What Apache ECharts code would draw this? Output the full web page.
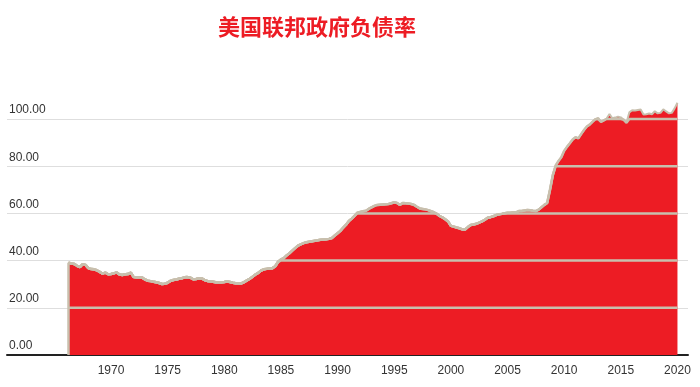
<!DOCTYPE html>
<html>
<head>
<meta charset="utf-8">
<script src="https://cdn.jsdelivr.net/npm/echarts@6/dist/echarts.min.js"></script>
<style>
html,body{margin:0;padding:0;background:#fff;}
#chart{width:700px;height:387px;}
</style>
</head>
<body>
<div id="chart"></div>
<script>
// Title
const chartTitle = '美国联邦政府负债率';
// First quarter of data (decimal year) and quarter step
const firstQuarter = 1966.25;
const quarterStep = 0.25;
// Federal debt as % of GDP, quarterly
const debt1960s = [39.1, 38.8, 38.6,
  37.8, 37.2, 38.5, 38.2,
  36.8, 36.4, 36.3, 35.9,
  35.2, 34.5, 34.9, 34.2];
const debt1970s = [34.3, 34.6, 35.0, 34.1,
  33.9, 34.2, 34.3, 34.9,
  33.0, 32.9, 32.9, 32.8,
  32.0, 31.5, 31.3, 31.0,
  30.8, 30.5, 30.1, 30.2,
  30.6, 31.4, 31.8, 32.0,
  32.3, 32.5, 32.9, 33.0,
  32.8, 32.1, 32.2, 32.4,
  32.5, 31.8, 31.4, 31.2,
  31.0, 30.8, 30.8, 30.8];
const debt1980s = [30.9, 31.1, 30.9, 30.6,
  30.4, 30.4, 30.3, 30.9,
  31.6, 32.3, 33.2, 34.1,
  34.8, 35.8, 36.3, 36.5,
  36.7, 36.8, 37.6, 39.5,
  40.5, 41.0, 42.2, 43.1,
  44.2, 45.3, 46.3, 46.9,
  47.4, 47.8, 48.0, 48.2,
  48.4, 48.6, 48.8, 48.9,
  49.0, 49.2, 49.6, 50.6];
const debt1990s = [51.6, 52.6, 54.0, 55.2,
  56.8, 57.8, 59.0, 60.3,
  60.6, 60.9, 61.1, 61.9,
  62.6, 63.2, 63.6, 63.7,
  63.8, 63.9, 64.0, 64.3,
  64.7, 64.4, 63.6, 64.4,
  64.3, 64.2, 64.0, 63.6,
  62.8, 62.1, 61.9, 61.7,
  61.4, 60.9, 60.5, 59.8,
  58.9, 58.3, 57.5, 56.6];
const debt2000s = [54.7, 54.4, 54.0, 53.7,
  53.2, 53.2, 54.2, 55.1,
  55.3, 55.6, 56.1, 56.6,
  57.3, 58.2, 58.4, 58.8,
  59.3, 59.6, 59.8, 60.1,
  60.3, 60.3, 60.5, 60.4,
  61.0, 61.0, 61.2, 61.4,
  61.3, 61.1, 61.0, 61.6,
  62.6, 63.6, 64.4, 70.0,
  76.2, 80.3, 82.2, 83.8];
const debt2010s = [86.5, 88.2, 89.7, 91.3,
  92.3, 91.8, 93.6, 95.3,
  96.8, 97.6, 98.8, 99.9,
  100.5, 98.8, 99.4, 100.2,
  102.1, 100.3, 100.6, 101.0,
  100.7, 99.7, 98.4, 102.8,
  103.7, 103.6, 103.8, 104.0,
  101.9, 102.0, 102.3, 102.0,
  103.3, 102.4, 102.6, 104.1,
  103.2, 102.4, 102.6, 104.5];
const debt2020s = [106.9];
// Axis ticks
const yearTicks = [1970, 1975, 1980, 1985, 1990, 1995, 2000, 2005, 2010, 2015, 2020];
const gridLevels = [20, 40, 60, 80, 100];

const debt = [].concat(debt1960s, debt1970s, debt1980s, debt1990s, debt2000s, debt2010s, debt2020s);
const points = debt.map((v, i) => [firstQuarter + i * quarterStep, v]);
const first = points[0], last = points[points.length - 1];

const RED = '#ed1c24';
const TAN = '#c8bfad';

const levelSeries = gridLevels.map(lv => ({
  type: 'line',
  data: points.map(p => [p[0], Math.min(p[1], lv)]),
  symbol: 'none',
  clip: false,
  silent: true,
  z: 3,
  lineStyle: { color: TAN, width: 2.5 }
}));

const chart = echarts.init(document.getElementById('chart'), null, { renderer: 'canvas' });
chart.setOption({
  animation: false,
  backgroundColor: '#fff',
  title: {
    text: chartTitle,
    left: 218,
    top: 16,
    padding: 0,
    textStyle: {
      color: RED,
      fontSize: 22,
      fontWeight: 'bold',
      fontFamily: '"Noto Sans CJK SC", sans-serif'
    }
  },
  grid: { left: 7, right: 12, top: 119, bottom: 32, containLabel: false },
  xAxis: {
    type: 'value',
    min: 1960.82,
    max: 2020.93,
    axisLine: { show: true, lineStyle: { color: '#222', width: 2 } },
    axisTick: { show: false },
    splitLine: { show: false },
    axisLabel: {
      customValues: yearTicks,
      color: '#333',
      fontSize: 12,
      margin: 10,
      fontFamily: '"Liberation Sans", Arial, sans-serif',
      formatter: v => String(v)
    }
  },
  yAxis: {
    type: 'value',
    min: 0,
    max: 100,
    interval: 20,
    axisLine: { show: false },
    axisTick: { show: false },
    splitLine: { show: true, lineStyle: { color: '#dedede', width: 1 } },
    axisLabel: {
      inside: true,
      margin: 2,
      color: '#333',
      fontSize: 12,
      verticalAlign: 'bottom',
      padding: [0, 0, 3, 0],
      fontFamily: '"Liberation Sans", Arial, sans-serif',
      formatter: v => v.toFixed(2)
    }
  },
  series: [{
    type: 'line',
    data: points,
    symbol: 'none',
    clip: false,
    z: 2,
    lineStyle: { color: TAN, width: 2 },
    areaStyle: { color: RED, opacity: 1 },
    markLine: {
      silent: true,
      symbol: 'none',
      label: { show: false },
      lineStyle: { color: TAN, width: 2.5, type: 'solid' },
      data: [
        [{ coord: [first[0], 0] }, { coord: [first[0], first[1]] }],
        [{ coord: [last[0], 0] }, { coord: [last[0], last[1]] }]
      ]
    }
  }].concat(levelSeries)
});
</script>
</body>
</html>
